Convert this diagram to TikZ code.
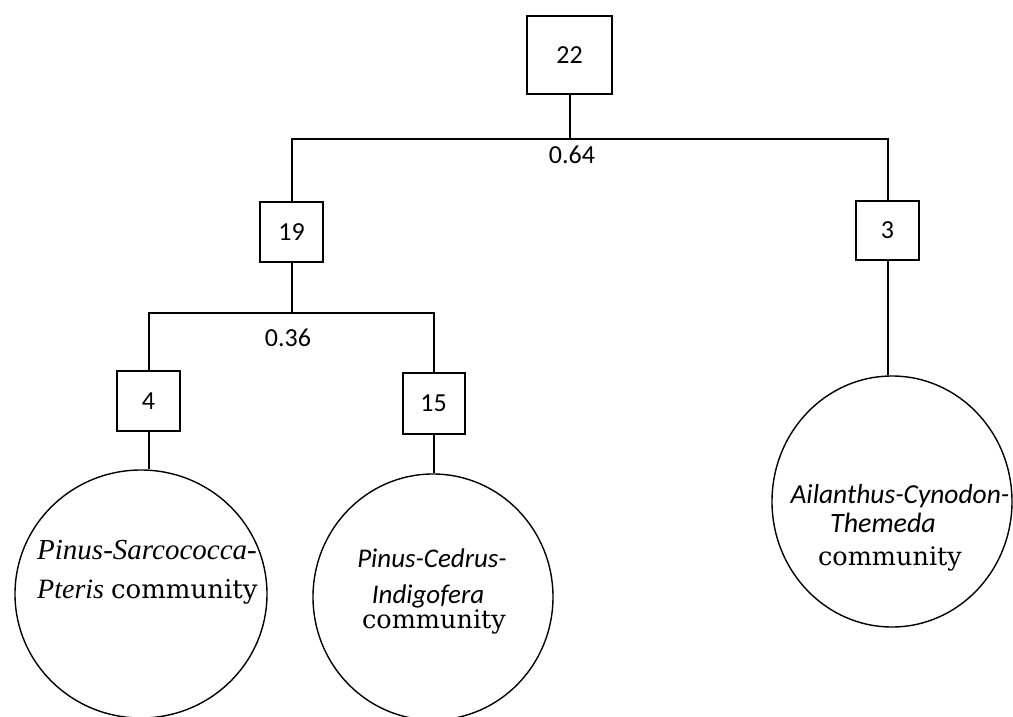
\documentclass[tikz,border=0pt]{standalone}
\usepackage{fontspec}
\setmainfont{Carlito}
\newfontfamily\cmbfont{DejaVu Serif}
\newfontfamily\cstfont{Liberation Serif}
\usetikzlibrary{shapes.geometric}
\begin{document}
\begin{tikzpicture}[x=1pt,y=-1pt,
 box/.style={draw, line width=2pt, inner sep=0pt, font=\fontsize{26}{30}\selectfont},
 comm/.style={draw, ellipse, line width=1.4pt, inner sep=0pt},
 edge/.style={line width=2pt},
 lbl/.style={font=\fontsize{26}{30}\selectfont, inner sep=0pt, anchor=base},
 sptext/.style={font=\fontsize{27}{30}\selectfont\itshape, inner sep=0pt, anchor=base},
 commtext/.style={font=\cmbfont\fontsize{25.5}{30}\selectfont, inner sep=0pt, anchor=base},
]
\useasboundingbox (0,0) rectangle (1013,717);
% boxes
\node[box, minimum width=85pt, minimum height=78pt] (n22) at (569.5,55) {22};
\node[box, minimum width=63pt, minimum height=60pt] (n19) at (291.5,232) {19};
\node[box, minimum width=63pt, minimum height=59pt] (n3) at (887.5,230.5) {3};
\node[box, minimum width=63pt, minimum height=60pt] (n4) at (148.5,401) {4};
\node[box, minimum width=62pt, minimum height=61pt] (n15) at (433.5,403.5) {15};
% communities
\node[comm, minimum width=252pt, minimum height=248pt] (c1) at (141,594) {};
\node[comm, minimum width=240pt, minimum height=246pt] (c2) at (433,597) {};
\node[comm, minimum width=240pt, minimum height=251pt] (c3) at (892,501.5) {};
% junctions
\coordinate (b1) at (569.5,139);
\coordinate (b2) at (291.5,313);
% connectors
\draw[edge] (n22.south) -- (b1);
\draw[edge] (n19.north) |- (b1) -| (n3.north);
\draw[edge] (n19.south) -- (b2);
\draw[edge] (n4.north) |- (b2) -| (n15.north);
\draw[edge] (n4.south) -- (n4.south |- c1.north);
\draw[edge] (n15.south) -- (n15.south |- c2.north);
\draw[edge] (n3.south) -- (n3.south |- c3.north);
% distance labels
\node[lbl] (l64) at (572,163) {0.64};
\node[lbl] (l36) at (288,346) {0.36};
% community texts
\node[sptext, font=\cstfont\fontsize{29}{30}\selectfont\itshape, anchor=base west] (t1a) at (37,559) {Pinus-Sarcococca-};
\node[sptext, font=\cstfont\fontsize{28}{30}\selectfont, anchor=base west] (t1b) at (37,598) {\textit{Pteris} {\cmbfont\fontsize{26}{30}\selectfont community}};
\node[sptext] (t2a) at (432,567) {Pinus-Cedrus-};
\node[sptext] (t2b) at (428,603) {Indigofera};
\node[commtext] (t2c) at (434,628) {community};
\node[sptext, font=\fontsize{27.5}{30}\selectfont\itshape] (t3a) at (900,503) {Ailanthus-Cynodon-};
\node[sptext, font=\fontsize{28}{30}\selectfont\itshape] (t3b) at (883,532) {Themeda};
\node[commtext] (t3c) at (890,565) {community};
\end{tikzpicture}
\end{document}
